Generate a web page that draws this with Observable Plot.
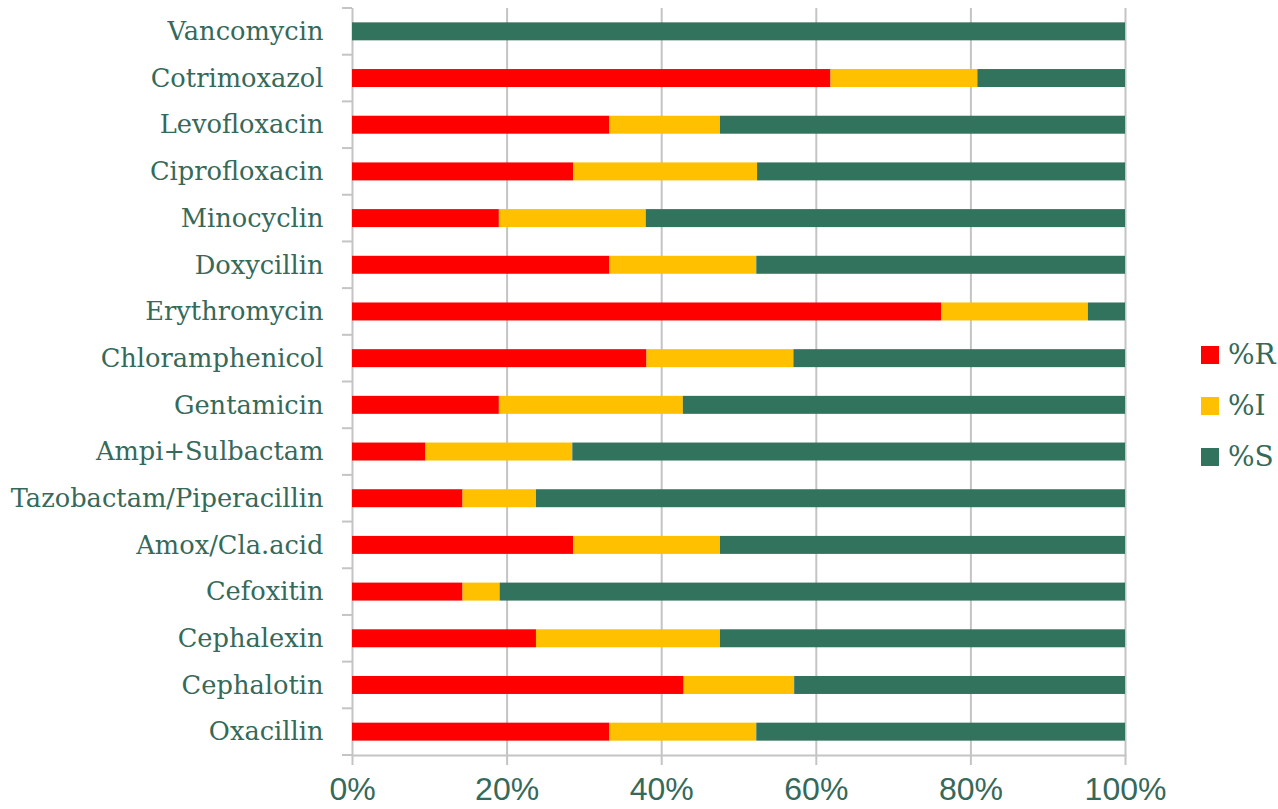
<!DOCTYPE html>
<html>
<head>
<meta charset="utf-8">
<script src="https://cdn.jsdelivr.net/npm/d3@7"></script>
<script src="https://cdn.jsdelivr.net/npm/@observablehq/plot@0.6"></script>
<style>
  html, body { margin: 0; padding: 0; background: #fff; }
  #wrap { position: relative; width: 1278px; height: 809px; overflow: hidden; }
  #legend { position: absolute; left: 1201px; top: 329px; font-family: "DejaVu Serif", serif; font-size: 28px; color: #35695a; }
  #legend .item { display: flex; align-items: center; height: 51px; }
  #legend .sw { width: 18px; height: 18px; margin-right: 9px; }
</style>
</head>
<body>
<div id="wrap"></div>
<script>
// Antibiotics, top to bottom
const drugs = [
  "Vancomycin", "Cotrimoxazol", "Levofloxacin", "Ciprofloxacin", "Minocyclin",
  "Doxycillin", "Erythromycin", "Chloramphenicol", "Gentamicin", "Ampi+Sulbactam",
  "Tazobactam/Piperacillin", "Amox/Cla.acid", "Cefoxitin", "Cephalexin",
  "Cephalotin", "Oxacillin"
];
// Percentages per category: resistant, intermediate, susceptible
const pctR = [0, 61.9, 33.3, 28.6, 19.0, 33.3, 76.2, 38.1, 19.0, 9.5, 14.3, 28.6, 14.3, 23.8, 42.9, 33.3];
const pctI = [0, 19.0, 14.3, 23.8, 19.0, 19.0, 19.0, 19.0, 23.8, 19.0, 9.5, 19.0, 4.8, 23.8, 14.3, 19.0];
const pctS = [100, 19.1, 52.4, 47.6, 62.0, 47.7, 4.8, 42.9, 57.2, 71.5, 76.2, 52.4, 80.9, 52.4, 42.8, 47.7];
const statuses = ["%R", "%I", "%S"];
const colors = ["#ff0000", "#ffc000", "#31735c"];
const xTicks = [0, 20, 40, 60, 80, 100];

const rows = [];
drugs.forEach((d, i) => {
  rows.push({drug: d, status: "%R", pct: pctR[i]});
  rows.push({drug: d, status: "%I", pct: pctI[i]});
  rows.push({drug: d, status: "%S", pct: pctS[i]});
});

const textColor = "#35695a";
const gridColor = "#c4c4c4";

// Small ticks on the left axis, placed on the boundaries between categories
function bandBoundaryTicks(index, scales) {
  const y = scales.y;
  const bw = typeof y.bandwidth === "function" ? y.bandwidth() : 0;
  const step = y(drugs[1]) - y(drugs[0]);
  const x0 = scales.x(0);
  const g = d3.create("svg:g");
  const ys = drugs.map(d => y(d) + bw / 2 - step / 2);
  ys.push(y(drugs[drugs.length - 1]) + bw / 2 + step / 2);
  ys.forEach(v => {
    g.append("line")
      .attr("x1", x0 - 10).attr("x2", x0)
      .attr("y1", v).attr("y2", v)
      .attr("stroke", gridColor).attr("stroke-width", 2);
  });
  return g.node();
}

const chart = Plot.plot({
  width: 1278,
  height: 809,
  marginLeft: 352,
  marginRight: 153,
  marginTop: 8,
  marginBottom: 54,
  style: {background: "white"},
  x: {domain: [0, 100]},
  y: {domain: drugs, paddingInner: 0.615, paddingOuter: 0.3075, round: false},
  color: {domain: statuses, range: colors},
  marks: [
    Plot.gridX(xTicks, {stroke: gridColor, strokeOpacity: 1, strokeWidth: 2}),
    Plot.frame({anchor: "bottom", stroke: gridColor, strokeWidth: 2}),
    Plot.barX(rows, Plot.stackX({
      x: "pct", y: "drug", fill: "status", order: statuses
    })),
    Plot.axisX(xTicks, {
      tickSize: 10, stroke: gridColor, strokeWidth: 2,
      tickFormat: d => d + "%", tickPadding: 12,
      fontSize: 32, fontFamily: "Liberation Sans, Arial, sans-serif",
      fill: textColor, label: null
    }),
    Plot.axisY({
      tickSize: 0, tickPadding: 29, fontSize: 25.7,
      fontFamily: "DejaVu Serif, serif", fill: textColor, label: null
    }),
    bandBoundaryTicks
  ]
});

document.getElementById("wrap").appendChild(chart);

// Legend to the right of the bars
const legend = d3.select("#wrap").append("div").attr("id", "legend");
statuses.forEach((s, i) => {
  const item = legend.append("div").attr("class", "item");
  item.append("div").attr("class", "sw").style("background", colors[i]);
  item.append("span").text(s);
});
</script>
</body>
</html>
